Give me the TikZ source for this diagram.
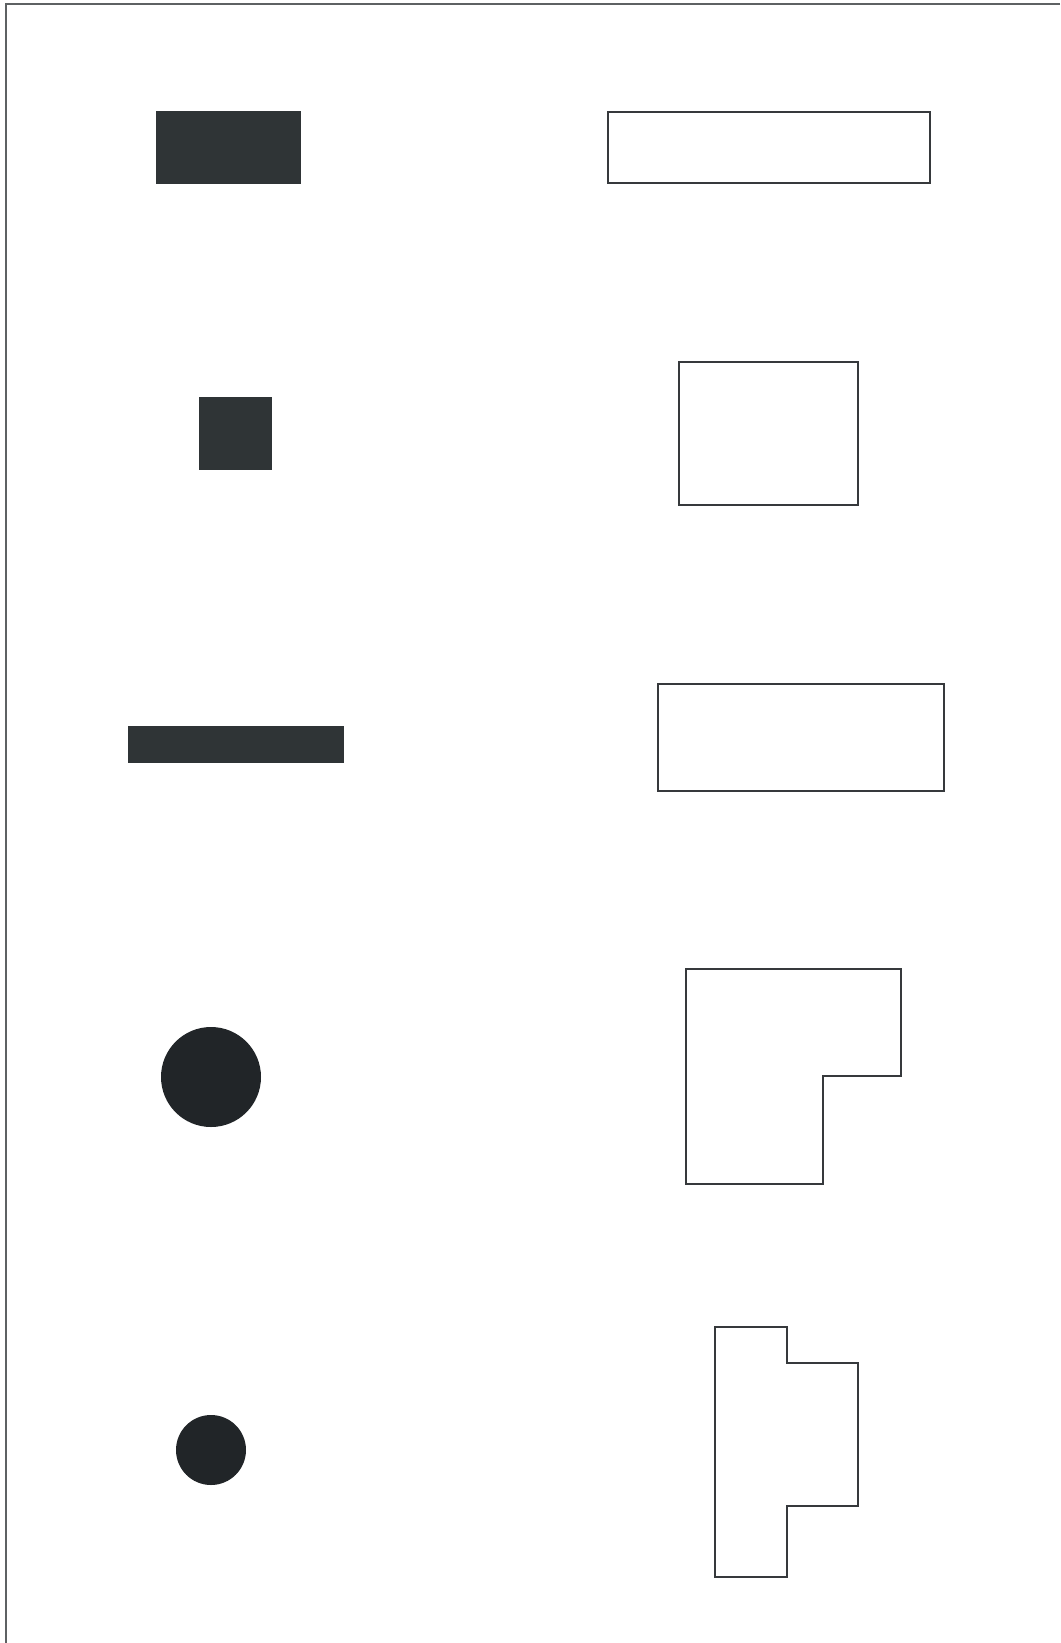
\documentclass[tikz,border=0pt]{standalone}
\usepackage{tikz}
\usetikzlibrary{positioning,calc}
\definecolor{slabgray}{HTML}{2F3436}
\definecolor{dotblack}{HTML}{212528}
\definecolor{edgegray}{HTML}{36393C}
\tikzset{
  solidblk/.style={fill=slabgray,draw=none},
  solidcirc/.style={fill=dotblack,draw=none},
  outlinebox/.style={draw=edgegray,line width=0.75pt,fill=white,line join=miter},
  frameln/.style={draw=edgegray!80,line width=0.8pt},
}

\begin{document}
\begin{tikzpicture}[x=0.5pt,y=-0.5pt]
  \useasboundingbox (0,0) rectangle (1060,1643);
  % frame: top and left edge only
  \draw[frameln] (1060,4) -- (6,4) -- (6,1643);

  % left column, solid shapes
  \fill[solidblk] (156,111) rectangle (301,184);
  \fill[solidblk] (199,397) rectangle (272,470);
  \fill[solidblk] (128,726) rectangle (344,763);
  \fill[solidcirc] (211,1077) circle (50);
  \fill[solidcirc] (211,1450) circle (35);

  % right column, outlines
  \begin{scope}[xshift=0.5pt]
  \draw[outlinebox] (607,112) rectangle (929,183);
  \draw[outlinebox] (678,362) rectangle (857,505);
  \draw[outlinebox] (657,684) rectangle (943,791);
  \draw[outlinebox] (685,969) -- (900,969) -- (900,1076) -- (822,1076)
    -- (822,1184) -- (685,1184) -- cycle;
  \draw[outlinebox] (714,1327) -- (786,1327) -- (786,1363) -- (857,1363)
    -- (857,1506) -- (786,1506) -- (786,1577) -- (714,1577) -- cycle;
  \end{scope}
\end{tikzpicture}
\end{document}
